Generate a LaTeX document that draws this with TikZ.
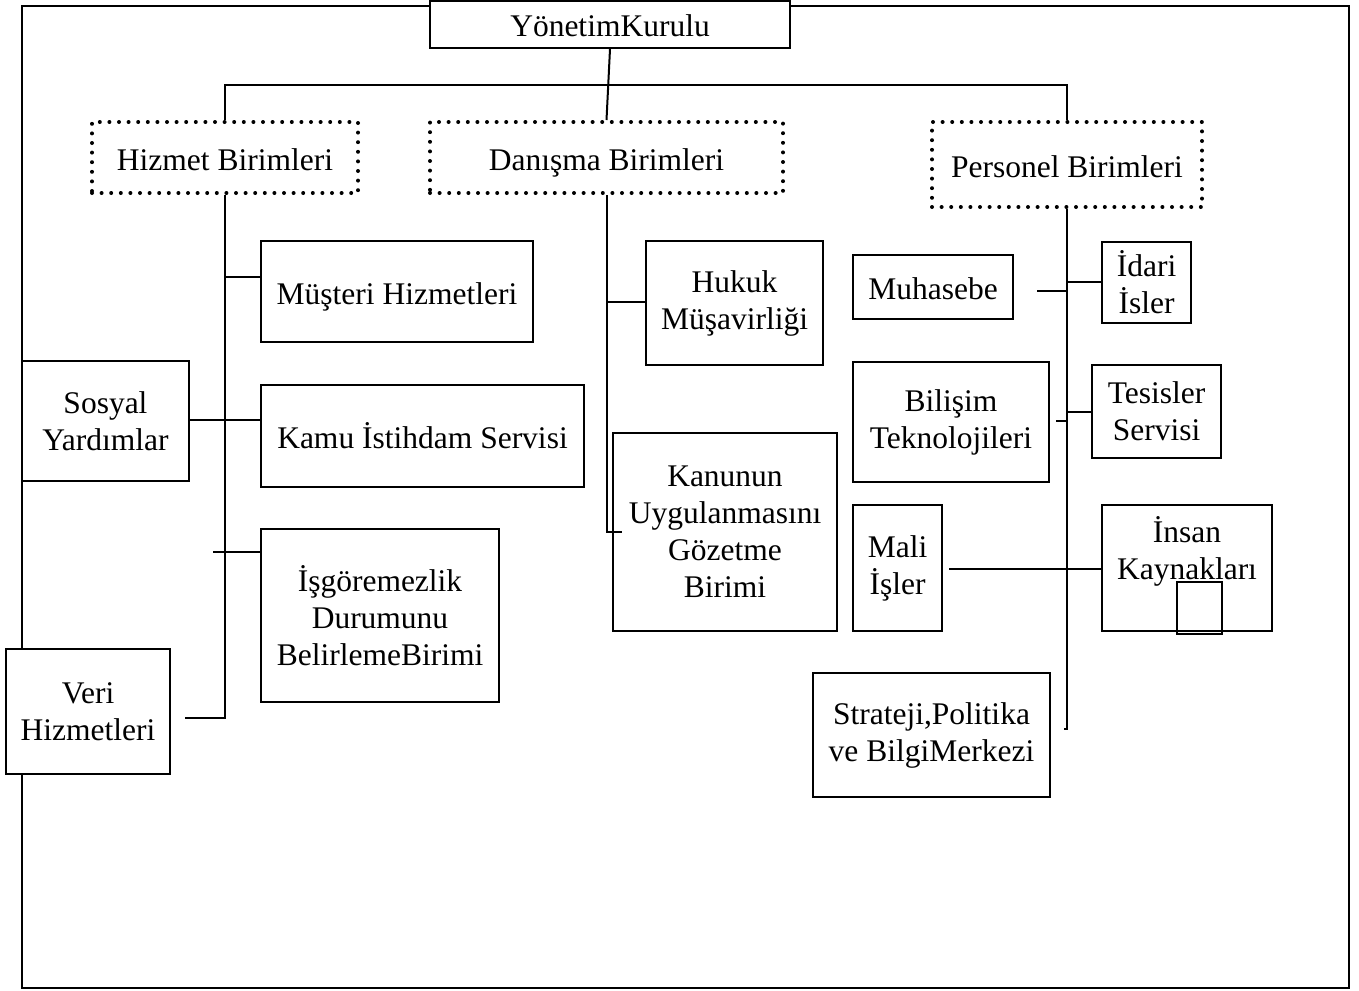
\documentclass[tikz,border=0pt]{standalone}
\usepackage{fontspec}
\setmainfont{Liberation Serif}
\newcommand\unitfont{\fontsize{31.5}{37}\selectfont}
\tikzset{
  ubox/.style={draw, line width=2pt, fill=white, inner sep=0pt, align=center, font=\unitfont},
  dotbox/.style={draw, line width=4pt, dash pattern=on 0pt off 9.6pt, line cap=round,
                 fill=white, inner sep=0pt, align=center, font=\unitfont},
  oneline/.style={text height=25pt, text depth=0pt},
  label text/.style={inner sep=0pt, align=center, font=\unitfont},
  link/.style={line width=2pt},
  frame/.style={line width=2pt}
}
\begin{document}
\begin{tikzpicture}[x=1pt,y=-1pt]
\useasboundingbox (0,0) rectangle (1359,990);

% outer frame
\draw[frame] (22,6) rectangle (1349,988);

% board
\node[ubox, oneline, minimum width=360pt, minimum height=47pt] (yk) at (610,24.5) {YönetimKurulu};

% three main groups
\node[dotbox, oneline, minimum width=266pt, minimum height=71pt] (hb) at (225,157.5) {Hizmet Birimleri};
\node[dotbox, oneline, minimum width=353pt, minimum height=71pt] (db) at (606.5,157.5) {Danışma Birimleri};
\node[dotbox, oneline, minimum width=270pt, minimum height=85pt] (pb) at (1067,164.5) {Personel Birimleri};

% service units
\node[ubox, oneline, minimum width=272pt, minimum height=101pt] (mh) at (397,291.5) {Müşteri Hizmetleri};
\node[ubox, minimum width=167pt, minimum height=120pt] (sy) at (105.5,421) {Sosyal\\Yardımlar};
\node[ubox, oneline, minimum width=323pt, minimum height=102pt] (ki) at (422.5,436) {Kamu İstihdam Servisi};
\node[ubox, minimum width=238pt, minimum height=173pt] (ig) at (380,615.5) {İşgöremezlik\\Durumunu\\BelirlemeBirimi};
\node[ubox, minimum width=164pt, minimum height=125pt] (vh) at (88,711.5) {Veri\\Hizmetleri};

% advisory units
\node[ubox, minimum width=177pt, minimum height=124pt] (hm) at (734.5,303) {Hukuk\\Müşavirliği};
\node[ubox, minimum width=224pt, minimum height=198pt] (ku) at (725,532) {Kanunun\\Uygulanmasını\\Gözetme\\Birimi};

% staff units
\node[ubox, oneline, minimum width=160pt, minimum height=64pt] (mu) at (933,287) {Muhasebe};
\node[ubox, minimum width=89pt, minimum height=81pt] (id) at (1146.5,282.5) {İdari\\İsler};
\node[ubox, minimum width=196pt, minimum height=120pt] (bt) at (951,422) {Bilişim\\Teknolojileri};
\node[ubox, minimum width=129pt, minimum height=93pt] (ts) at (1156.5,411.5) {Tesisler\\Servisi};
\node[ubox, minimum width=89pt, minimum height=126pt] (mi) at (897.5,568) {Mali\\İşler};
\node[ubox, minimum width=170pt, minimum height=126pt] (ik) at (1187,568) {};
\node[label text] (iktext) at (1187,551) {İnsan\\Kaynakları};
\node[draw, line width=2pt, inner sep=0pt, minimum width=45pt, minimum height=52pt] (sq) at (1199.5,608) {};
\node[ubox, minimum width=237pt, minimum height=124pt] (sp) at (931.5,735) {Strateji,Politika\\ve BilgiMerkezi};

% free line ends
\coordinate (bus) at (0,85);
\coordinate (vhend) at (185,718);
\coordinate (igend) at (213,552);
\coordinate (dbend) at (622,532);
\coordinate (pbend) at (1064,729);
\coordinate (muend) at (1037,291);
\coordinate (btend) at (1056,421);
\coordinate (miend) at (949,569);

% board to groups
\draw[link] (yk.south) -- (db.north);
\draw[link] (hb.north) -- (hb.north |- bus) -- (pb.north |- bus) -- (pb.north);

% service branch
\draw[link] (hb.south) |- (vhend);
\draw[link] (hb.south |- 0,277) -- (mh.west |- 0,277);
\draw[link] (sy.east |- 0,420) -- (ki.west |- 0,420);
\draw[link] (igend) -- (ig.west |- igend);

% advisory branch
\draw[link] (db.south) |- (dbend);
\draw[link] (db.south |- 0,302) -- (hm.west |- 0,302);

% staff branch
\draw[link] (pb.south) |- (pbend);
\draw[link] (muend) -- (pb.south |- muend);
\draw[link] (pb.south |- 0,282) -- (id.west |- 0,282);
\draw[link] (btend) -- (pb.south |- btend);
\draw[link] (pb.south |- 0,412) -- (ts.west |- 0,412);
\draw[link] (miend) -- (ik.west |- miend);
\end{tikzpicture}
\end{document}
